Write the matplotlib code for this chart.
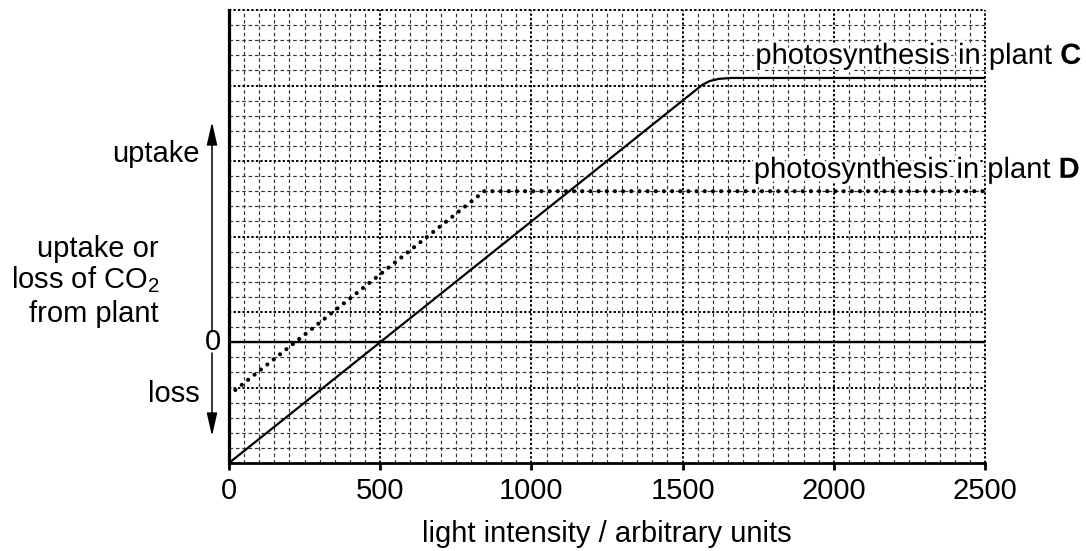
import numpy as np
import matplotlib.pyplot as plt
from matplotlib import patheffects

plt.rcParams['font.family'] = ['Liberation Sans', 'DejaVu Sans']
plt.rcParams['mathtext.fontset'] = 'custom'
plt.rcParams['mathtext.rm'] = 'Liberation Sans'
plt.rcParams['mathtext.it'] = 'Liberation Sans:italic'
plt.rcParams['mathtext.bf'] = 'Liberation Sans:bold'

# light intensity (arbitrary units) vs CO2 uptake (grid squares)
x_c = [0, 1540, 1565, 1590, 1620, 1660, 2500]
y_c = [-8, 16.64, 17.04, 17.3, 17.44, 17.5, 17.5]
x_d = [0, 844, 2500]
y_d = [-3.5, 10, 10]
x_ticks = [0, 500, 1000, 1500, 2000, 2500]
x_lim = (0, 2500)
y_lim = (-8, 22)

W, H = 1086, 551
FS = 21
fig = plt.figure(figsize=(W / 100, H / 100), dpi=100)
ax = fig.add_axes([229 / W, (H - 463) / H, 756 / W, 453 / H])
ax.set_xlim(*x_lim)
ax.set_ylim(*y_lim)


def px(x, y):
    # pixel position (from top-left) -> figure fraction
    return x / W, 1 - y / H


# grid: minor every 50 / 1 square, major every 500 / 5 squares
for gx in np.arange(50, 2501, 50):
    major = gx % 500 == 0
    ax.axvline(gx, color="black" if major else "#333333",
               lw=1.4 if major else 0.85,
               ls=(0, (1.2, 1.1)) if major else (0, (3, 2.4)),
               clip_on=False, zorder=1)
for gy in np.arange(-7, 23, 1):
    major = (gy + 8) % 5 == 0
    ax.axhline(gy, color="black" if major else "#333333",
               lw=1.4 if major else 0.85,
               ls=(0, (1.2, 1.1)) if major else (0, (3, 2.4)),
               clip_on=False, zorder=1)

ax.axhline(0, color="black", lw=1.7, zorder=3)

ax.plot(x_c, y_c, color="black", lw=1.6, zorder=4, solid_capstyle="butt")
ax.plot(x_d, y_d, color="black", lw=3.0, ls=(0, (0.01, 1.95)),
        dash_capstyle="round", zorder=4)

for s in ["top", "right"]:
    ax.spines[s].set_visible(False)
ax.spines["left"].set_linewidth(2.3)
ax.spines["bottom"].set_linewidth(2.0)
ax.spines["left"].set_zorder(5)
ax.spines["bottom"].set_zorder(5)

ax.set_xticks(x_ticks)
ax.set_xticklabels([str(t) for t in x_ticks])
ax.set_yticks([])
ax.tick_params(axis="x", direction="out", length=5, width=2, pad=5,
               labelsize=FS)
fig.text(*px(607, 542), "light intensity / arbitrary units", fontsize=FS,
         ha="center", va="baseline")

halo = [patheffects.withStroke(linewidth=5, foreground="white")]
fig.text(*px(1082, 64), "photosynthesis in plant $\\mathbf{C}$", fontsize=FS,
         ha="right", va="baseline", path_effects=halo, zorder=6)
fig.text(*px(1080, 178), "photosynthesis in plant $\\mathbf{D}$", fontsize=FS,
         ha="right", va="baseline", path_effects=halo, zorder=6)

fig.text(*px(200, 162), "uptake", fontsize=FS, ha="right", va="baseline")
fig.text(*px(159, 257), "uptake or", fontsize=FS, ha="right", va="baseline")
fig.text(*px(159, 288), "loss of CO$_2$", fontsize=FS, ha="right", va="baseline")
fig.text(*px(159, 322), "from plant", fontsize=FS, ha="right", va="baseline")
fig.text(*px(221, 342), "0", fontsize=FS, ha="right", va="center")
fig.text(*px(200, 402), "loss", fontsize=FS, ha="right", va="baseline")

arrow = dict(arrowstyle="-|>,head_length=0.7,head_width=0.16",
             color="black", lw=1.1, shrinkA=0, shrinkB=0, mutation_scale=20)
ax.annotate("", xy=px(212, 122), xytext=px(212, 331), xycoords="figure fraction",
            textcoords="figure fraction", arrowprops=arrow, annotation_clip=False)
ax.annotate("", xy=px(212, 436), xytext=px(212, 353), xycoords="figure fraction",
            textcoords="figure fraction", arrowprops=arrow, annotation_clip=False)

fig.savefig("out.png", dpi=100, facecolor="white")
